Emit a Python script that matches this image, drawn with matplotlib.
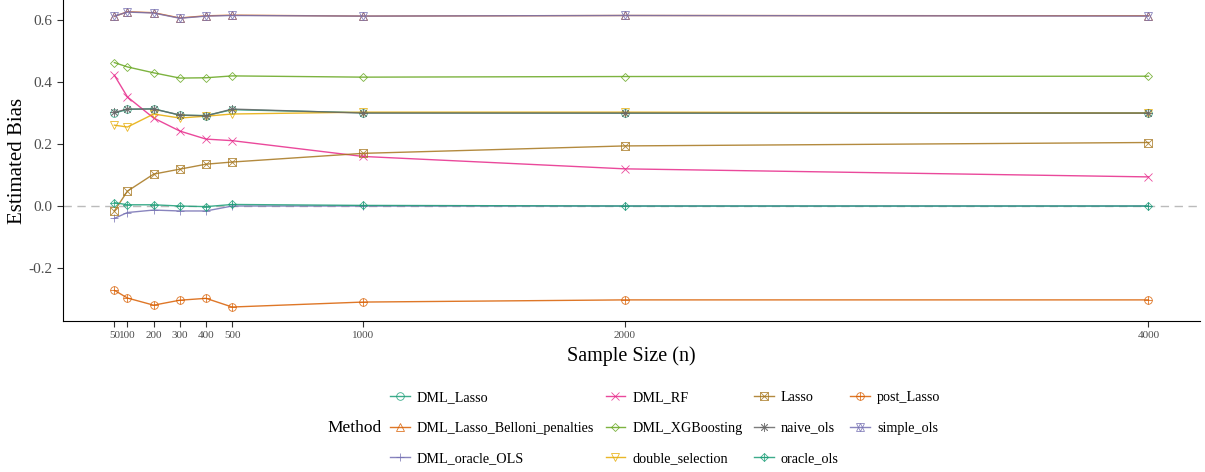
import matplotlib.pyplot as plt
from matplotlib.legend_handler import HandlerTuple

plt.rcParams["font.family"] = ["Liberation Serif", "DejaVu Serif"]

n = [50, 100, 200, 300, 400, 500, 1000, 2000, 4000]

methods = ["DML_Lasso", "DML_Lasso_Belloni_penalties", "DML_oracle_OLS",
           "DML_RF", "DML_XGBoosting", "double_selection",
           "Lasso", "naive_ols", "oracle_ols",
           "post_Lasso", "simple_ols"]

dml_lasso = [0.300, 0.312, 0.314, 0.293, 0.292, 0.311, 0.301, 0.300, 0.300]
dml_lasso_belloni = [0.612, 0.627, 0.624, 0.607, 0.614, 0.616, 0.613, 0.615, 0.614]
dml_oracle_ols = [-0.040, -0.021, -0.013, -0.016, -0.016, 0.000, 0.000, 0.000, 0.000]
dml_rf = [0.422, 0.352, 0.284, 0.242, 0.216, 0.211, 0.160, 0.120, 0.094]
dml_xgb = [0.463, 0.449, 0.430, 0.413, 0.414, 0.420, 0.416, 0.418, 0.419]
double_selection = [0.261, 0.255, 0.297, 0.284, 0.290, 0.297, 0.303, 0.303, 0.300]
lasso = [-0.016, 0.048, 0.103, 0.119, 0.135, 0.142, 0.170, 0.194, 0.205]
naive_ols = [0.302, 0.313, 0.313, 0.294, 0.291, 0.313, 0.300, 0.300, 0.300]
oracle_ols = [0.011, 0.004, 0.004, 0.000, -0.002, 0.005, 0.002, 0.000, 0.000]
post_lasso = [-0.272, -0.297, -0.320, -0.304, -0.298, -0.326, -0.310, -0.303, -0.303]
simple_ols = [0.613, 0.626, 0.623, 0.606, 0.613, 0.615, 0.613, 0.615, 0.613]

values = [dml_lasso, dml_lasso_belloni, dml_oracle_ols, dml_rf, dml_xgb,
          double_selection, lasso, naive_ols, oracle_ols, post_lasso, simple_ols]

dark2 = ["#1B9E77", "#D95F02", "#7570B3", "#E7298A", "#66A61E",
         "#E6AB02", "#A6761D", "#666666"]
colors = [dark2[i % 8] for i in range(len(methods))]
# ggplot shapes 1..11 built from matplotlib markers (some overlaid)
markers = [["o"], ["^"], ["+"], ["x"], ["D"], ["v"], ["s", "x"],
           [(8, 2, 0)], ["D", "+"], ["o", "+"], ["^", "v"]]

fig = plt.figure(figsize=(12.05, 4.72), dpi=100)
ax = fig.add_axes([0.052, 0.32, 0.944, 0.68])

ax.axhline(0, color="#BBBBBB", linestyle=(0, (6, 4)), linewidth=1, zorder=0)

handles = []
for name, vals, col, mk in zip(methods, values, colors, markers):
    parts = []
    for k, m in enumerate(mk):
        ls = "-" if k == 0 else "none"
        size = 4.5 if m == "D" else 5.5
        if m == (8, 2, 0):
            size = 6.5
        line, = ax.plot(n, vals, color=col, linestyle=ls, linewidth=1,
                        marker=m, markersize=size, markerfacecolor="none",
                        markeredgewidth=0.6, alpha=0.85)
        parts.append(line)
    handles.append(tuple(parts))

ax.set_xlim(-147.5, 4197.5)
ax.set_ylim(-0.371, 0.665)
ax.set_xticks(n)
ax.set_xticklabels([str(v) for v in n], fontsize=8, color="#4D4D4D")
ax.set_yticks([-0.2, 0.0, 0.2, 0.4, 0.6])
ax.set_yticklabels(["-0.2", "0.0", "0.2", "0.4", "0.6"], fontsize=11, color="#4D4D4D")
ax.tick_params(length=4, color="#333333", width=0.8)
for s in ["top", "right"]:
    ax.spines[s].set_visible(False)
ax.set_xlabel("Sample Size (n)", fontsize=14.5, labelpad=4)
ax.set_ylabel("Estimated Bias", fontsize=15, labelpad=1)

fig.legend(handles, methods, loc="center left", bbox_to_anchor=(0.313, 0.093),
           ncol=4, frameon=False, fontsize=10.2, handlelength=1.4,
           columnspacing=0.8, labelspacing=1.25, handletextpad=0.5,
           handler_map={tuple: HandlerTuple(ndivide=1)})
fig.text(0.272, 0.093, "Method", fontsize=12.5, va="center", ha="left")

plt.savefig("out.png", dpi=100)
